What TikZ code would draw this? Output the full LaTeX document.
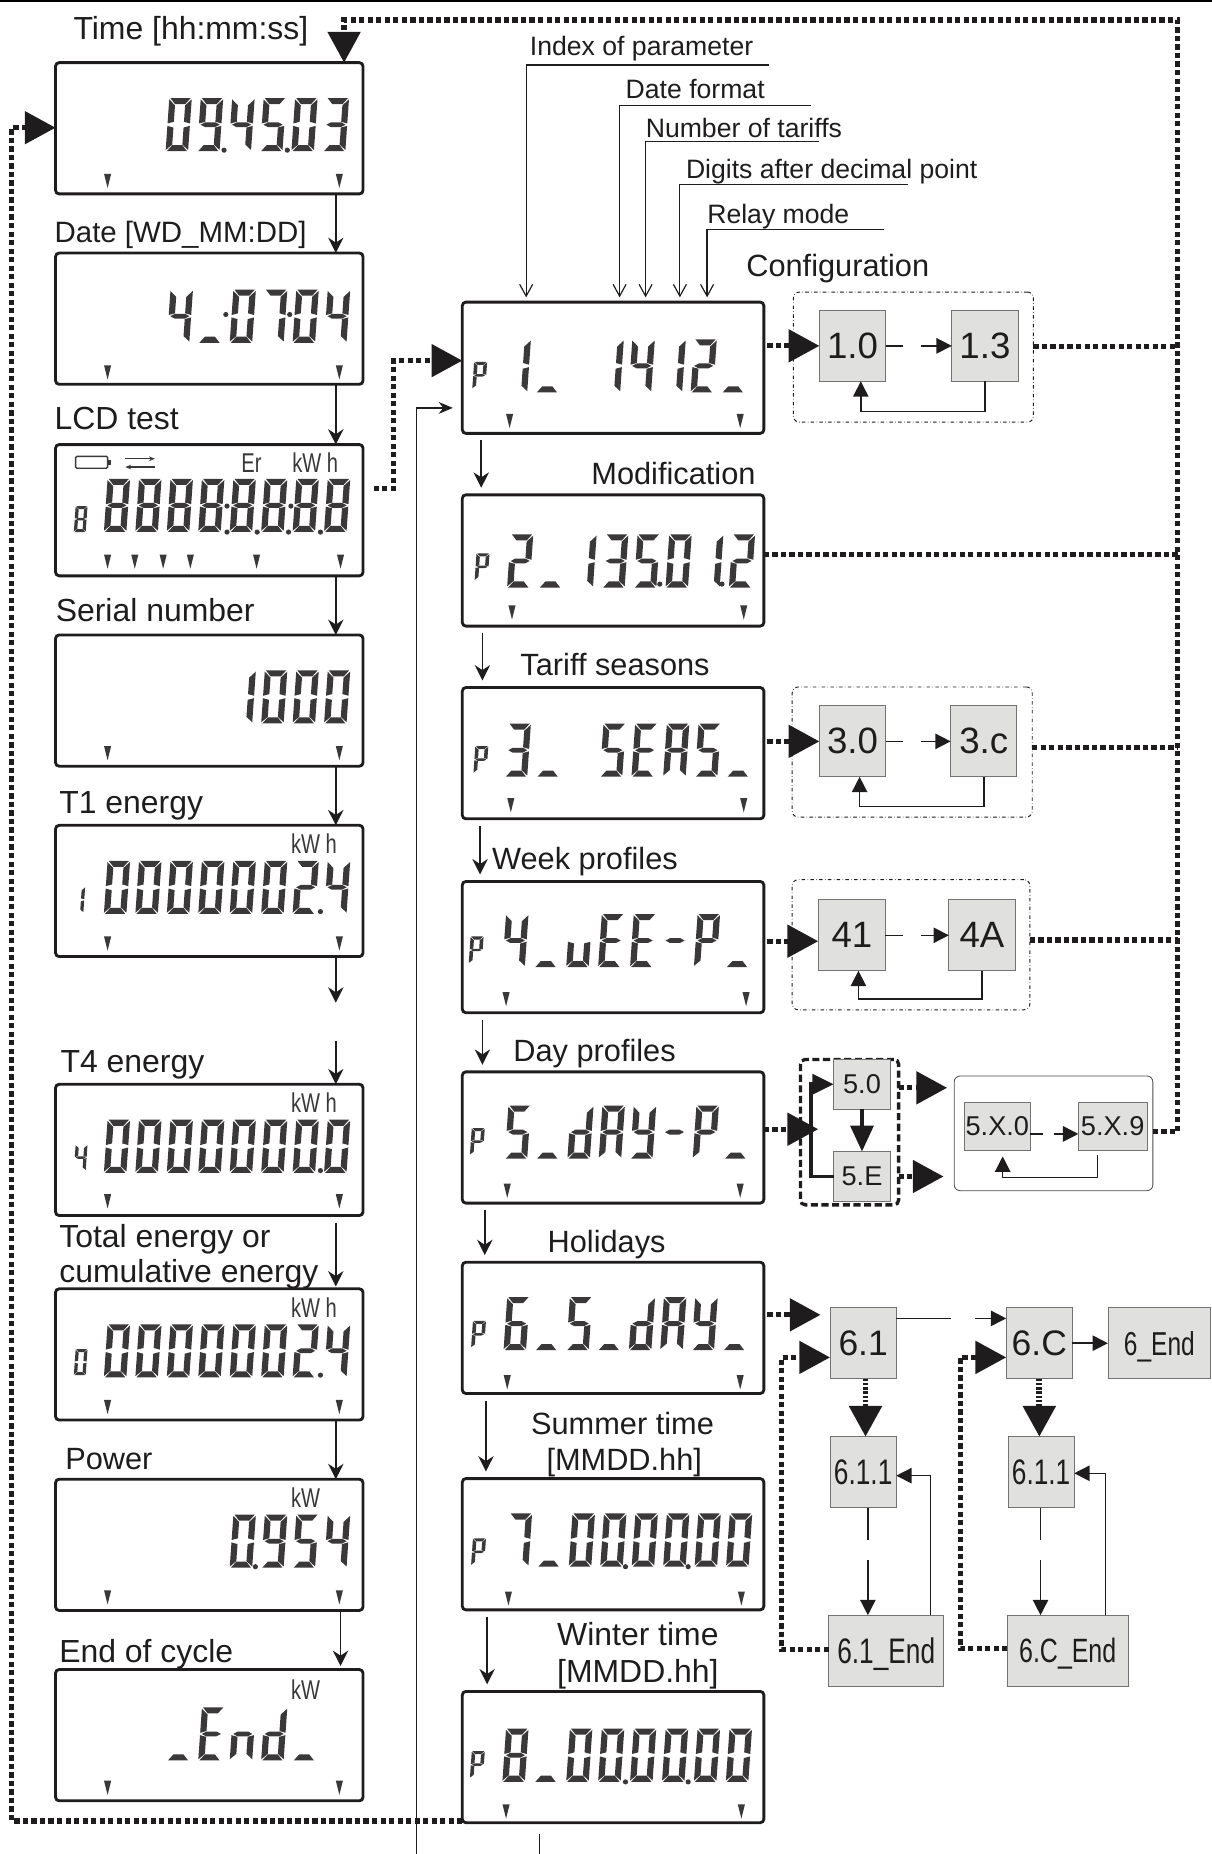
\documentclass[tikz,border=0pt]{standalone}
\usepackage{fontspec}
\setmainfont{Liberation Sans}
\newfontfamily\narrowfont[FakeStretch=0.74]{Liberation Sans}
\usepackage{tikz}
\usetikzlibrary{arrows.meta, positioning}
\definecolor{myink}{RGB}{30,28,28}
\definecolor{segink}{RGB}{58,56,56}
\definecolor{hdrgray}{RGB}{224,224,222}
\tikzset{
  lcd/.style={rectangle, draw=myink, minimum width=260pt, minimum height=111pt,
    rounded corners=3pt, line width=2.4pt, outer sep=0pt},
  plcd/.style={lcd, minimum width=255pt},
  parbox/.style={rectangle, draw=black!55, fill=hdrgray, minimum width=56pt, minimum height=60pt,
    inner sep=0pt, outer sep=0pt, font=\fontsize{31}{34}\selectfont, line width=0.7pt, text=myink},
  narrowbox/.style={parbox, text depth=0pt, font=\narrowfont\fontsize{30}{34}\selectfont},
  smallbox/.style={parbox, minimum width=48pt, minimum height=42pt, font=\fontsize{23}{26}\selectfont},
  widebox/.style={parbox, minimum width=56pt, minimum height=41pt, font=\fontsize{23}{26}\selectfont},
  framebox/.style={rectangle, draw=myink, minimum width=203pt, minimum height=110pt,
    rounded corners=5pt, dash dot, line width=0.8pt, outer sep=0pt},
  captext/.style={anchor=base west, inner sep=0pt, text=myink, font=\fontsize{26}{30}\selectfont},
  widecap/.style={captext, font=\fontsize{27}{30}\selectfont},
  smallcap/.style={captext, font=\fontsize{22.5}{26}\selectfont},
  unit/.style={anchor=base west, inner sep=0pt, text=segink, font=\narrowfont\fontsize{23}{26}\selectfont},
  arrow/.style={-{Stealth[length=13pt,width=13pt]}, line width=1.3pt, color=myink},
  leader/.style={-{Straight Barb[length=10pt,width=11pt]}, line width=1pt, color=myink, shorten >=4pt},
  dotline/.style={line width=4.4pt, dash pattern=on 4.4pt off 2.8pt, color=myink},
  dotarrow/.style={dotline, -{Triangle[length=26pt,width=27pt]}},
  densearrow/.style={line width=5pt, dash pattern=on 2pt off 1.6pt, color=myink, -{Triangle[length=26pt,width=27pt]}},
  looparrow/.style={-{Triangle[length=13pt,width=13pt]}, line width=1.3pt, color=myink}
}
% LCD segments
\newcommand{\lcdsega}{\fill[segink] (1,0) -- (19,0) -- (14.5,5) -- (5.5,5) -- cycle;}
\newcommand{\lcdsegb}{\fill[segink] (20,1) -- (20,21) -- (14.5,19.6) -- (14.5,6) -- cycle;}
\newcommand{\lcdsegc}{\fill[segink] (20,23) -- (20,43) -- (14.5,38.5) -- (14.5,24.4) -- cycle;}
\newcommand{\lcdsegd}{\fill[segink] (1,44) -- (19,44) -- (14.5,39) -- (5.5,39) -- cycle;}
\newcommand{\lcdsege}{\fill[segink] (0,23) -- (0,43) -- (5.5,38.5) -- (5.5,24.4) -- cycle;}
\newcommand{\lcdsegf}{\fill[segink] (0,1) -- (0,21) -- (5.5,19.6) -- (5.5,6) -- cycle;}
\newcommand{\lcdsegg}{\fill[segink] (1.5,22) -- (5.5,20) -- (14.5,20) -- (18.5,22) -- (14.5,24) -- (5.5,24) -- cycle;}
\newcommand{\lcdsegz}{}
\newcommand{\lcdchar}[2]{\expandafter\def\csname lcdg#1\endcsname{#2}}
\lcdchar{0}{a,b,c,d,e,f}
\lcdchar{1}{b,c}
\lcdchar{2}{a,b,g,e,d}
\lcdchar{3}{a,b,g,c,d}
\lcdchar{4}{f,g,b,c}
\lcdchar{5}{a,f,g,c,d}
\lcdchar{6}{a,f,g,e,c,d}
\lcdchar{7}{a,b,c}
\lcdchar{8}{a,b,c,d,e,f,g}
\lcdchar{9}{a,b,c,d,f,g}
\lcdchar{A}{a,b,c,e,f,g}
\lcdchar{S}{a,f,g,c,d}
\lcdchar{E}{a,f,g,e,d}
\lcdchar{P}{a,b,e,f,g}
\lcdchar{Y}{f,g,b,c,d}
\lcdchar{d}{b,c,d,e,g}
\lcdchar{n}{c,e,g}
\lcdchar{u}{c,d,e}
\lcdchar{-}{g}
\lcdchar{_}{d}
\lcdchar{x}{z}
\newcommand{\lcdglyph}[5]{%
  \begin{scope}[shift={(#1,#2)}, xslant=0.07, xscale=#3, yscale=#4]
    \edef\lcdsegs{\csname lcdg#5\endcsname}
    \foreach \s in \lcdsegs {\csname lcdseg\s\endcsname}
  \end{scope}}
\newcommand{\lcdrow}[4]{%
  \foreach \c [count=\k from 0] in {#4} {
    \pgfmathsetmacro\px{#2+#3*\k+3}
    \lcdglyph{\px}{#1}{0.95}{1.02}{\c}
  }}
\newcommand{\lcdticks}[2]{%
  \foreach \tx in {#2} {\fill[segink] (\tx-3,#1) -- (\tx+3,#1) -- (\tx,#1+12) -- cycle;}}
\newcommand{\lcddots}[1]{%
  \foreach \dx/\dy in {#1} {\fill[segink] (\dx,\dy) circle (2.2);}}

\begin{document}
\begin{tikzpicture}[x=1pt, y=-1pt]
  \useasboundingbox (0,0) rectangle (1025,1568);
  \coordinate (rulea) at (0,1);
  \coordinate (ruleb) at (1025,1);
  \draw[line width=2pt, color=black] (rulea) -- (ruleb);

  % Left column
  \node[lcd] (time) at (177,108.5) {};
  \node[lcd, below=50pt of time] (date) {};
  \node[lcd, below=51pt of date] (lcdtest) {};
  \node[lcd, below=50pt of lcdtest] (serial) {};
  \node[lcd, below=50pt of serial] (tone) {};
  \node[lcd, below=108pt of tone] (tfour) {};
  \node[lcd, below=62pt of tfour] (total) {};
  \node[lcd, below=50pt of total] (power) {};
  \node[lcd, below=50pt of power] (endcycle) {};

  % Right column
  \node[plcd] (pone) at (518.5,311) {};
  \node[plcd, below=52pt of pone] (ptwo) {};
  \node[plcd, below=52pt of ptwo] (pthree) {};
  \node[plcd, below=53pt of pthree] (pfour) {};
  \node[plcd, below=50pt of pfour] (pfive) {};
  \node[plcd, below=50pt of pfive] (psix) {};
  \node[plcd, below=72pt of psix] (pseven) {};
  \node[plcd, below=69pt of pseven] (peight) {};

  % Captions
  \node[widecap] (ctime) at (62,33) {Time [hh:mm:ss]};
  \node[captext, font=\fontsize{24.9}{30}\selectfont] (cdate) at (46,205) {Date [WD\_MM:DD]};
  \node[widecap] (clcd) at (46,363) {LCD test};
  \node[widecap] (cserial) at (47,526) {Serial number};
  \node[widecap] (ctone) at (50,688) {T1 energy};
  \node[widecap] (ctfour) at (51,907) {T4 energy};
  \node[widecap] (ctotal) at (50,1055) {Total energy or};
  \node[widecap] (ccumul) at (50,1085) {cumulative energy};
  \node[captext] (cpower) at (55,1243) {Power};
  \node[widecap] (cend) at (50,1406) {End of cycle};
  \node[captext] (cconf) at (631,234) {Configuration};
  \node[captext] (cmod) at (500,410) {Modification};
  \node[captext] (cseas) at (440,571) {Tariff seasons};
  \node[captext] (cweek) at (416,735) {Week profiles};
  \node[captext] (cday) at (434,898) {Day profiles};
  \node[captext] (choli) at (463,1059) {Holidays};
  \node[captext] (csumm) at (449,1213) {Summer time};
  \node[captext] (csumb) at (462,1244) {[MMDD.hh]};
  \node[widecap] (cwint) at (471,1392) {Winter time};
  \node[widecap] (cwinb) at (471,1423) {[MMDD.hh]};
  \node[smallcap] (lindex) at (448,47) {Index of parameter};
  \node[smallcap] (lformat) at (529,83) {Date format};
  \node[smallcap] (ltariff) at (546,116) {Number of tariffs};
  \node[smallcap] (ldigits) at (580,151) {Digits after decimal point};
  \node[smallcap] (lrelay) at (598,189) {Relay mode};

  % Digits
  \lcdrow{83}{87}{26.6}{x,x,0,9,4,5,0,3}
  \lcddots{189.5/127, 243/127}
  \lcdrow{245}{88}{26.6}{x,x,4,_,0,7,0,4}
  \lcddots{191/266, 245/266}
  \lcdrow{405}{88}{26.6}{8,8,8,8,8,8,8,8}
  \lcddots{192/428, 192/450, 217.5/450, 246/428, 244/450, 271/450}
  \lcdglyph{64}{428}{0.5}{0.5}{8}
  \lcdrow{567}{88}{26.6}{x,x,x,x,1,0,0,0}
  \lcdrow{728}{88}{26.6}{0,0,0,0,0,0,2,4}
  \lcdglyph{62}{750}{0.5}{0.5}{1}
  \lcdrow{947}{88}{26.6}{0,0,0,0,0,0,0,0}
  \lcdglyph{64}{968}{0.5}{0.5}{4}
  \lcdrow{1120}{88}{26.6}{0,0,0,0,0,0,2,4}
  \lcdglyph{64}{1141}{0.5}{0.5}{0}
  \lcddots{271/771, 271/990, 271/1163}
  \lcdrow{1281}{88}{26.6}{x,x,x,x,0,9,5,4}
  \lcddots{216/1325}
  \lcdrow{1444}{88}{26.6}{x,x,_,E,n,d,_}
  \lcdrow{287}{427}{26.2}{1,_,x,1,4,1,2,_}
  \lcdrow{452}{429}{26.8}{2,_,1,3,5,0,1,2}
  \lcddots{558/494, 610.6/494}
  \lcdrow{612}{427}{26.8}{3,_,x,S,E,A,S,_}
  \lcdrow{773}{425}{27}{4,_,u,E,E,-,P,_}
  \lcdrow{935}{427}{26.5}{5,_,d,A,Y,-,P,_}
  \lcdrow{1097}{426}{26.5}{6,_,5,_,d,A,Y,_}
  \lcdrow{1280}{428}{26.6}{7,_,0,0,0,0,0,0}
  \lcddots{529/1325, 582/1325}
  \lcdrow{1462}{425}{27}{8,_,0,0,0,0,0,0}
  \lcddots{529/1507, 582/1507}
  \foreach \gx/\gy in {401/306, 403/468, 402/631, 398/792, 399/954, 400/1117, 400/1301, 399/1481}
    {\lcdglyph{\gx}{\gy}{0.55}{0.52}{P}}

  % Ticks
  \lcdticks{147}{91,287}
  \lcdticks{309}{91,287}
  \lcdticks{469}{91,114,138,161,217,288}
  \lcdticks{631}{91,287}
  \lcdticks{792}{91,287}
  \lcdticks{1010}{91,287}
  \lcdticks{1184}{91,287}
  \lcdticks{1345}{91,287}
  \lcdticks{1506}{91,287}
  \lcdticks{350}{431,626}
  \lcdticks{512}{433,629}
  \lcdticks{675}{432,629}
  \lcdticks{839}{428,631}
  \lcdticks{1001}{429,626}
  \lcdticks{1163}{429,626}
  \lcdticks{1346}{430,627}
  \lcdticks{1526}{428,627}

  % Units and icons
  \node[unit] (uer) at (204,400) {Er};
  \node[unit] (ukwha) at (247,400) {kW h};
  \node[unit] (ukwhb) at (246,722) {kW h};
  \node[unit] (ukwhc) at (246,941) {kW h};
  \node[unit] (ukwhd) at (246,1114) {kW h};
  \node[unit] (ukwe) at (246,1275) {kW};
  \node[unit] (ukwf) at (246,1437) {kW};
  \draw[segink, line width=1.2pt, rounded corners=1pt] (64,386) rectangle (91,396);
  \fill[segink] (91,389) rectangle (94,393);
  \draw[segink, line width=1pt, -{Stealth[length=5pt,width=4pt]}] (106,388) -- (131,388);
  \draw[segink, line width=1pt, -{Stealth[length=5pt,width=4pt]}] (131,395) -- (106,395);

  % Configuration
  \node[framebox] (frameone) at (772.5,302) {};
  \node[parbox] (boxten) at (721,292.5) {1.0};
  \node[parbox] (boxthree) at (833,292.5) {1.3};
  \node[framebox] (framethree) at (771.5,636) {};
  \node[parbox] (boxthz) at (721,627) {3.0};
  \node[parbox] (boxthc) at (832,627) {3.c};
  \node[framebox, minimum width=201pt] (framefour) at (770.5,799) {};
  \node[parbox] (boxfour) at (720.5,791) {41};
  \node[parbox] (boxfoura) at (830.5,791) {4A};

  % Day profile boxes
  \node[rectangle, draw=myink, dash pattern=on 6pt off 3pt, line width=2.8pt, rounded corners=4pt, minimum width=83pt, minimum height=123pt, outer sep=0pt] (framefive) at (718.5,957.5) {};
  \node[smallbox] (boxfive) at (729,917) {5.0};
  \node[smallbox] (boxfivee) at (729,995) {5.E};
  \node[rectangle, draw=black!70, line width=0.7pt, rounded corners=5pt, minimum width=168pt, minimum height=97pt, outer sep=0pt] (framex) at (891,958.5) {};
  \node[widebox] (boxxz) at (843.5,952.5) {5.X.0};
  \node[widebox, minimum width=58pt] (boxxn) at (941,952.5) {5.X.9};

  % Holiday boxes
  \node[parbox, font=\fontsize{30}{34}\selectfont] (boxsone) at (730,1136) {6.1};
  \node[parbox, font=\fontsize{30}{34}\selectfont] (boxsc) at (879,1136) {6.C};
  \node[narrowbox, minimum width=87pt, font=\narrowfont\fontsize{28}{34}\selectfont] (boxsend) at (980.5,1136) {6\_End};
  \node[narrowbox] (boxsoneone) at (730,1245) {6.1.1};
  \node[narrowbox] (boxscone) at (880.5,1245) {6.1.1};
  \node[narrowbox, minimum width=97pt] (boxsoneend) at (749.5,1396) {6.1\_End};
  \node[narrowbox, minimum width=102pt, font=\narrowfont\fontsize{28.5}{34}\selectfont] (boxscend) at (903,1396) {6.C\_End};

  % Main arrows
  \coordinate (lx) at (284,0);
  \foreach \a/\b in {time/date, date/lcdtest, lcdtest/serial, serial/tone, total/power}
    \draw[arrow] (\a.south -| lx) -- (\b.north -| lx);
  \draw[arrow, shorten <=6pt, shorten >=2pt] (tfour.south -| lx) -- (total.north -| lx);
  \draw[arrow, shorten >=3pt] (power.south -| 288,0) -- (endcycle.north -| 288,0);
  \coordinate (gapa) at (284,848);
  \coordinate (gapb) at (284,880);
  \draw[arrow] (tone.south -| lx) -- (gapa);
  \draw[arrow] (gapb) -- (tfour.north -| lx);
  \foreach \a/\b/\rx in {pone/ptwo/407, ptwo/pthree/408, pthree/pfour/406, pfour/pfive/408, pfive/psix/410, psix/pseven/411, pseven/peight/412}
    \draw[arrow, shorten <=6pt, shorten >=6pt] (\a.south -| \rx,0) -- (\b.north -| \rx,0);

  % Parameter leaders
  \foreach \xa/\xb/\yy in {650/445/55, 686/524/89, 693/546/120, 768/575/156, 748/598/194}
    \draw[leader] (\xa,\yy) -| (pone.north -| \xb,0);

  % Side entry line
  \coordinate (sidea) at (352,1568);
  \coordinate (sideb) at (456,1568);
  \coordinate (sidec) at (456,1551);
  \draw[line width=1pt, color=myink, -{Stealth[length=12pt,width=10pt]}] (sidea) |- ([yshift=-34pt, xshift=-8pt]pone.west);
  \draw[line width=1pt, color=myink] (sidec) -- (sideb);

  % Return lines
  \coordinate (retz) at (996,17);
  \coordinate (retb) at (996,957);
  \coordinate (rett) at (291,17);
  \draw[dotarrow] (framex.east |- retb) -- (retb) -- (retz) -- (rett) -- (time.north -| rett);
  \coordinate (reta) at (996,293);
  \coordinate (retc) at (996,632);
  \coordinate (retd) at (996,795);
  \draw[dotline] (frameone.east |- reta) -- (reta);
  \draw[dotline] (ptwo.east |- 0,469) -- (996,469);
  \draw[dotline] (framethree.east |- retc) -- (retc);
  \draw[dotline] (framefour.east |- retd) -- (retd);
  \coordinate (retl) at (10,1540);
  \coordinate (retu) at (10,108);
  \draw[dotarrow] (peight.west |- retl) -- (retl) -- (retu) -- (time.west |- retu);
  \coordinate (lcdout) at (316,413);
  \coordinate (lcdup) at (333,413);
  \coordinate (lcdtop) at (333,305);
  \draw[dotarrow] (lcdout) -- (lcdup) -- (lcdtop) -- (pone.west |- lcdtop);

  % Entries
  \draw[dotarrow, shorten <=3pt] (pone.east |- boxten) -- (boxten.west);
  \draw[dotarrow, shorten <=3pt] (pthree.east |- boxthz) -- (boxthz.west);
  \coordinate (infour) at (692,796);
  \draw[dotarrow, shorten <=3pt] (pfour.east |- infour) -- (infour);
  \coordinate (infive) at (692,955);
  \draw[dotarrow] (pfive.east |- infive) -- (infive);
  \coordinate (inxa) at (801,920);
  \coordinate (inxb) at (798,995);
  \draw[dotarrow] (framefive.east |- inxa) -- (inxa);
  \draw[dotarrow] (framefive.east |- inxb) -- (inxb);
  \coordinate (insix) at (694,1112);
  \draw[dotarrow, shorten <=3pt] (psix.east |- insix) -- (insix);

  % Inner links
  \foreach \a/\b in {boxten/boxthree, boxthz/boxthc, boxfour/boxfoura}
    \draw[looparrow, dash pattern=on 15pt off 15pt on 30pt] (\a.east) -- (\b.west);
  \foreach \a/\b/\lx/\ly in {boxthree/boxten/728/348, boxthc/boxthz/727/682, boxfoura/boxfour/726/845}
    \draw[looparrow] (\a.south) |- (\lx,\ly) -- (\b.south -| \lx,0);
  \coordinate (xlink) at (0,959);
  \draw[looparrow, dash pattern=on 11pt off 9pt on 20pt] (boxxz.east |- xlink) -- (boxxn.west |- xlink);
  \coordinate (xbend) at (928,995.5);
  \coordinate (xtip) at (848,978);
  \draw[looparrow, line width=1pt] ([yshift=-4pt]boxxn.south -| xbend) -- (xbend) -| (xtip);

  % Link inside the dashed frame
  \coordinate (fivebend) at (686,995);
  \draw[line width=3pt, color=myink, -{Triangle[length=18pt,width=17pt]}] (boxfivee.west) -- (fivebend) |- (boxfive.west);
  \draw[line width=4pt, color=myink, -{Triangle[length=22pt,width=19pt]}] (boxfive.south) -- (boxfivee.north);

  % Holiday links
  \coordinate (linka) at (0,1115);
  \draw[looparrow, dash pattern=on 46pt off 21pt on 30pt] (boxsone.east |- linka) -- (boxsc.west |- linka);
  \draw[looparrow] (boxsc.east) -- (boxsend.west);
  \draw[densearrow] (boxsone.south -| 732,0) -- (boxsoneone.north -| 732,0);
  \draw[densearrow] (boxsc.south) -- (boxscone.north -| boxsc.south);
  \draw[looparrow, dash pattern=on 27pt off 17pt on 50pt] (boxsoneone.south -| 734,0) -- (boxsoneend.north -| 734,0);
  \draw[looparrow, dash pattern=on 27pt off 17pt on 50pt] (boxscone.south -| 880,0) -- (boxscend.north -| 880,0);
  \coordinate (backa) at (787,1248);
  \coordinate (backb) at (935,1246);
  \draw[looparrow] (boxsoneend.north -| backa) -- (backa) -- (boxsoneone.east |- backa);
  \draw[looparrow] (boxscend.north -| backb) -- (backb) -- (boxscone.east |- backb);
  \coordinate (loopa) at (661,1395);
  \coordinate (loopb) at (661,1148);
  \coordinate (loopc) at (812,1394);
  \coordinate (loopd) at (812,1148);
  \draw[dotarrow] (boxsoneend.west |- loopa) -- (loopa) -- (loopb) -- (boxsone.west |- loopb);
  \draw[dotarrow] (boxscend.west |- loopc) -- (loopc) -- (loopd) -- (boxsc.west |- loopd);
\end{tikzpicture}
\end{document}
